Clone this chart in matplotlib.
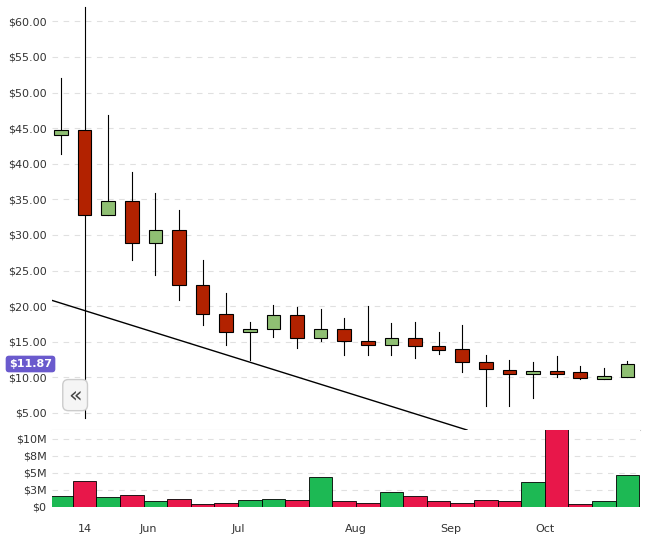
import matplotlib
matplotlib.use("Agg")
import matplotlib.pyplot as plt
from matplotlib.patches import Rectangle

opens  = [44.1,44.7,32.8,34.7,28.9,30.7,22.9,18.9,16.4,16.8,18.8,15.5,16.8,15.1,14.6,15.5,14.4,14.0,12.2,11.0,10.5,10.9,10.8,9.8,10.1]
closes = [44.7,32.8,34.7,28.9,30.7,22.9,18.9,16.4,16.8,18.8,15.5,16.8,15.1,14.6,15.5,14.4,13.9,12.2,11.2,10.5,10.9,10.5,9.9,10.2,11.87]
highs  = [52.1,62.0,46.8,38.8,35.9,33.5,26.5,21.9,17.8,20.2,19.9,19.6,18.4,20.0,17.7,17.8,16.3,17.4,13.2,12.5,12.2,13.0,11.6,11.3,12.3]
lows   = [41.3,4.3,32.8,26.5,24.4,20.9,17.4,14.6,12.5,15.7,14.1,15.1,13.2,13.2,13.2,12.7,13.3,10.8,6.0,6.0,7.1,10.1,9.8,9.8,10.1]
volumes= [1.6,3.8,1.5,1.8,0.9,1.2,0.4,0.6,1.0,1.2,1.0,4.4,0.9,0.6,2.2,1.6,0.9,0.6,1.0,0.9,3.7,11.5,0.4,0.9,4.7]
vol_up = [1,0,1,0,1,0,0,0,1,1,0,1,0,0,1,0,0,0,0,0,1,0,0,1,1]
price_ticks = [5,10,15,20,25,30,35,40,45,50,55,60]
vol_ticks = [0,2.5,5,7.5,10]
vol_labels = ["$0","$3M","$5M","$8M","$10M"]
month_pos = [1,3.7,7.5,12.5,16.5,20.5]
month_labels = ["14","Jun","Jul","Aug","Sep","Oct"]
trend_x = [-0.47,17.2]
trend_y = [20.9,2.6]

W,H=650,536
fig=plt.figure(figsize=(6.5,5.36),dpi=100)
ax=fig.add_axes([52/W,1-430/H,588/W,430/H])
axv=fig.add_axes([52/W,1-507/H,588/W,77/H])
xl=(-0.38,24.53)
gc="#8fbf73"; rc="#b22200"
for i,(o,c,h,l) in enumerate(zip(opens,closes,highs,lows)):
    ax.plot([i,i],[l,h],color="black",lw=0.8,zorder=2)
    col=gc if c>=o else rc
    ax.add_patch(Rectangle((i-0.29,min(o,c)),0.58,max(abs(c-o),0.3),fc=col,ec="black",lw=0.8,zorder=3))
ax.plot(trend_x,trend_y,color="black",lw=1,zorder=4)
ax.set_xlim(*xl); ax.set_ylim(2.6,63)
ax.set_yticks(price_ticks)
ax.set_yticklabels([f"${v:.2f}" for v in price_ticks],fontsize=8,color="#333")
ax.tick_params(axis="y",length=0,pad=4)
ax.set_xticks([])
ax.grid(axis="y",ls=(0,(5,5)),color="#e0e0e0",lw=0.8)
for s in ax.spines.values(): s.set_visible(False)
ax.spines["bottom"].set_visible(True); ax.spines["bottom"].set_color("#ccc")
ax.text(-0.38,11.87,"$11.87",transform=ax.transData,ha="right",va="center",fontsize=8,color="white",fontweight="bold",
        bbox=dict(boxstyle="round,pad=0.3",fc="#6a5acd",ec="none"),zorder=6)
ax.text(0.6,7.5,"«",ha="center",va="center",fontsize=16,color="#444",
        bbox=dict(boxstyle="round,pad=0.25",fc="#f5f5f5",ec="#ccc"),zorder=6)

for i,(v,u) in enumerate(zip(volumes,vol_up)):
    axv.bar(i,v,width=1.0,color="#1db954" if u else "#e8174a",edgecolor="black",lw=0.6)
axv.set_xlim(*xl); axv.set_ylim(0,11.3)
axv.set_yticks(vol_ticks); axv.set_yticklabels(vol_labels,fontsize=8,color="#333")
axv.set_xticks(month_pos); axv.set_xticklabels(month_labels,fontsize=8,color="#333")
axv.tick_params(length=0,pad=4)
axv.tick_params(axis="x",pad=12)
axv.grid(axis="y",ls=(0,(5,5)),color="#e0e0e0",lw=0.8)
axv.set_axisbelow(True)
for s in axv.spines.values(): s.set_visible(False)
fig.savefig("out.png",dpi=100)
